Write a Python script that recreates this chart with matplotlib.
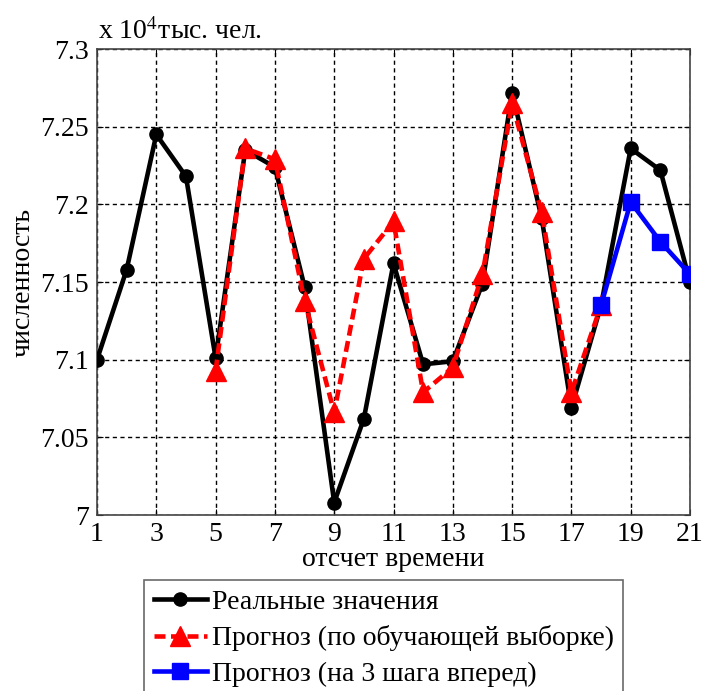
import matplotlib
matplotlib.use("Agg")
import matplotlib.pyplot as plt

# Численность населения, единицы по оси y: x 10^4 тыс. чел.
t_real = list(range(1, 22))
real = [7.100, 7.158, 7.245, 7.218, 7.101, 7.235, 7.224, 7.147, 7.008, 7.062, 7.162,
        7.097, 7.099, 7.149, 7.272, 7.191, 7.069, 7.135, 7.236, 7.222, 7.150]

t_train = list(range(5, 19))
pred_train = [7.093, 7.236, 7.229, 7.138, 7.066, 7.165, 7.189, 7.079, 7.095, 7.155,
              7.265, 7.195, 7.079, 7.135]

t_ahead = [18, 19, 20, 21]
pred_ahead = [7.135, 7.2015, 7.176, 7.155]

x_ticks = list(range(1, 22, 2))
y_ticks = [7.0, 7.05, 7.1, 7.15, 7.2, 7.25, 7.3]
y_tick_labels = ["7", "7.05", "7.1", "7.15", "7.2", "7.25", "7.3"]

plt.rcParams["font.family"] = ["Liberation Serif", "DejaVu Serif"]
plt.rcParams["mathtext.fontset"] = "stix"
plt.rcParams["font.size"] = 20

fig = plt.figure(figsize=(7.03, 6.91), dpi=100)
ax = fig.add_axes([0.138, 0.2547, 0.8435, 0.6743])

ax.plot(t_real, real, color="black", linewidth=3.3, marker="o", markersize=9.5,
        label="Реальные значения", zorder=3)
ax.plot(t_train, pred_train, color="red", linewidth=3.3, linestyle=(0, (2.4, 1.2)),
        marker="^", markersize=14, label="Прогноз (по обучающей выборке)", zorder=4)
ax.plot(t_ahead, pred_ahead, color="blue", linewidth=3.3, marker="s", markersize=11,
        label="Прогноз (на 3 шага вперед)", zorder=5)

ax.set_xlim(1, 21)
ax.set_ylim(7.0, 7.3)
ax.set_xticks(x_ticks)
ax.set_yticks(y_ticks)
ax.set_yticklabels(y_tick_labels)
ax.tick_params(direction="in", length=4, labelsize=20, top=True, right=True)
ax.tick_params(axis="x", pad=5)
ax.tick_params(axis="y", pad=6)
ax.grid(True, color="black", linestyle=(0, (3, 2.5)), linewidth=1.0)
for sp in ax.spines.values():
    sp.set_color("#444444")
    sp.set_linewidth(1.2)

ax.set_xlabel("отсчет времени", fontsize=20)
ax.xaxis.set_label_coords(0.5, -0.068)
ax.set_ylabel("численность", fontsize=20)
ax.yaxis.set_label_coords(-0.103, 0.5)

fig.text(98 / 703, 1 - 39 / 691, r"x 10$^{4}$тыс. чел.", fontsize=20,
         ha="left", va="baseline")

# легенда под осями, нижний край рамки уходит за пределы рисунка
leg = fig.legend(loc="upper left", bbox_to_anchor=(144 / 703, 1 - 580 / 691),
                 fontsize=20, frameon=True, fancybox=False, edgecolor="#444444",
                 handlelength=1.9, handletextpad=0.18, borderpad=0.35,
                 labelspacing=0.37, borderaxespad=0)
leg.get_frame().set_linewidth(1.2)

fig.savefig("out.png", dpi=100)
